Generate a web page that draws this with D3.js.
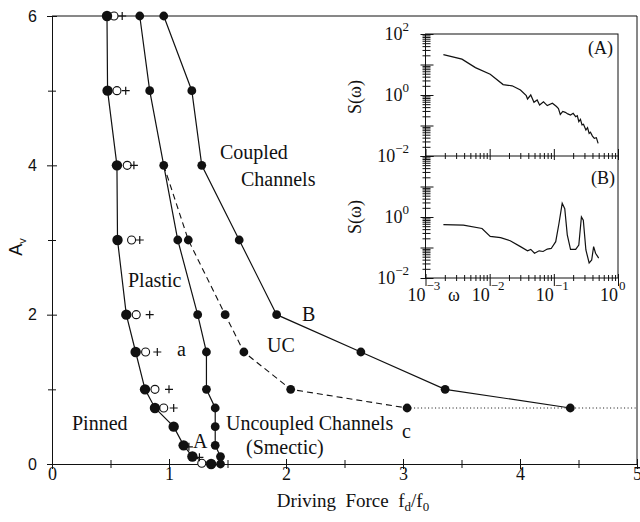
<!DOCTYPE html>
<html><head><meta charset="utf-8">
<script src="https://cdn.jsdelivr.net/npm/d3@7/dist/d3.min.js"></script>
<style>body{margin:0;background:#fff}svg{display:block}</style>
</head><body><svg id="c" width="640" height="522"></svg>
<script>
// ---- Main phase diagram data ----
const xTicks = [0,1,2,3,4,5];
const xMinor = [0.5,1.5,2.5,3.5,4.5];
const yTicks = [0,2,4,6];
const yMinor = [1,3,5];

const pinnedX = [0.47,0.475,0.555,0.56,0.635,0.715,0.795,0.88,1.04,1.125,1.2,1.36];
const pinnedY = [6,5,4,3,2,1.5,1,0.75,0.5,0.25,0.1,0];

const plasticX = [0.75,0.835,0.955,1.075,1.245,1.32,1.32,1.395,1.395,1.395,1.44,1.44];
const plasticY = [6,5,4,3,2,1.5,1,0.75,0.5,0.25,0.1,0];

const ucX = [0.955,1.165,1.48,1.64,2.04,3.035];
const ucY = [4,3,2,1.5,1,0.75];

const coupledX = [0.955,1.195,1.28,1.6,1.92,2.64,3.36,4.43];
const coupledY = [6,5,4,3,2,1.5,1,0.75];

const dottedX = [3.035,5];
const dottedY = [0.75,0.75];

const openX = [0.53,0.555,0.643,0.68,0.72,0.8,0.88,0.955,1.28];
const openY = [6,5,4,3,2,1.5,1,0.75,0.01];

const plusX = [0.6,0.63,0.7,0.75,0.835,0.9,1.0,1.04,1.17,1.26];
const plusY = [6,5,4,3,2,1.5,1,0.75,0.23,0.09];

// ---- Inset spectra ----
const wA = [0.0019,0.0037,0.006,0.0102,0.0162,0.0224,0.0302,0.0372,0.0389,0.0437,0.049,0.055,0.060,0.069,0.079,0.095,0.110,0.118,0.126,0.138,0.151,0.165,0.182,0.20,0.219,0.232,0.245,0.26,0.275,0.29,0.316,0.335,0.355,0.372,0.40,0.427,0.46,0.49];
const sA = [21,15,7.9,4.8,2.2,2.0,1.45,0.95,0.74,1.0,0.58,0.69,0.47,0.6,0.45,0.54,0.42,0.36,0.23,0.29,0.27,0.24,0.22,0.25,0.195,0.21,0.135,0.16,0.105,0.11,0.071,0.085,0.055,0.06,0.045,0.038,0.04,0.026];

const wB = [0.0019,0.0039,0.0076,0.0102,0.0148,0.0209,0.0302,0.0389,0.0437,0.050,0.059,0.068,0.079,0.091,0.107,0.120,0.135,0.148,0.162,0.182,0.219,0.245,0.269,0.288,0.316,0.355,0.389,0.417,0.447,0.50];
const sB = [0.56,0.54,0.42,0.23,0.21,0.166,0.107,0.078,0.087,0.065,0.078,0.074,0.089,0.093,0.155,0.60,2.8,1.86,0.26,0.087,0.087,0.12,1.0,0.78,0.083,0.031,0.039,0.107,0.065,0.045];

const insetDecades = [1e-2,1e0,1e2];
const insetDecadeLabels = ["\u22122","0","2"];
const insetXDecades = [1e-3,1e-2,1e-1,1e0];
const insetXLabels = ["\u22123","\u22122","\u22121","0"];

const serif = "Liberation Serif, Times New Roman, serif";
const sans = "Liberation Sans, Arial, sans-serif";
const ink = "#111";

const svg = d3.select("#c");
const x = d3.scaleLinear().domain([0,5]).range([52,637]);
const y = d3.scaleLinear().domain([0,6]).range([464,16]);

// Frame (top & right)
svg.append("line").attr("x1",x(0)).attr("x2",x(5)).attr("y1",y(6)).attr("y2",y(6)).attr("stroke",ink).attr("stroke-width",1);
svg.append("line").attr("x1",x(5)).attr("x2",x(5)).attr("y1",y(6)).attr("y2",y(0)).attr("stroke",ink).attr("stroke-width",1);

// X axis
const gx = svg.append("g").attr("transform",`translate(0,${y(0)})`)
  .call(d3.axisBottom(x).tickValues(xTicks).tickFormat(d3.format("d")).tickSizeOuter(0));
gx.selectAll(".tick line").attr("y1",-5).attr("y2",5);
gx.selectAll(".tick text").attr("y",16).attr("dy",0).attr("font-family",serif).attr("font-size",18).attr("fill",ink);
const gx2 = svg.append("g").attr("transform",`translate(0,${y(0)})`)
  .call(d3.axisBottom(x).tickValues(xMinor).tickFormat(""));
gx2.select(".domain").remove();
gx2.selectAll(".tick line").attr("y1",-4).attr("y2",4);
svg.selectAll(".domain,.tick line").attr("stroke",ink);

// Y axis
const gy = svg.append("g").attr("transform",`translate(${x(0)},0)`)
  .call(d3.axisLeft(y).tickValues(yTicks).tickFormat(d3.format("d")).tickSizeOuter(0));
gy.selectAll(".tick line").attr("x1",-5).attr("x2",5);
gy.selectAll(".tick text").attr("x",-15).attr("font-family",sans).attr("font-size",16).attr("fill",ink);
const gy2 = svg.append("g").attr("transform",`translate(${x(0)},0)`)
  .call(d3.axisLeft(y).tickValues(yMinor).tickFormat(""));
gy2.select(".domain").remove();
gy2.selectAll(".tick line").attr("x1",-4).attr("x2",4);
svg.selectAll(".domain,.tick line").attr("stroke",ink);

// axis labels
const xl = svg.append("text").attr("x",353).attr("y",507).attr("text-anchor","middle")
  .attr("font-family",serif).attr("font-size",19).attr("fill",ink).attr("xml:space","preserve");
xl.append("tspan").text("Driving  Force  f");
xl.append("tspan").attr("dy",4).attr("font-size",13).text("d");
xl.append("tspan").attr("dy",-4).text("/f");
xl.append("tspan").attr("dy",4).attr("font-size",13).text("0");

const yl = svg.append("text").attr("transform","translate(22,247) rotate(-90)").attr("text-anchor","middle")
  .attr("font-family",sans).attr("font-size",18).attr("fill",ink);
yl.append("tspan").text("A");
yl.append("tspan").attr("dy",4).attr("font-size",11).text("v");

// Lines
const line = d3.line().x(d=>x(d[0])).y(d=>y(d[1]));
const zip = (a,b)=>a.map((v,i)=>[v,b[i]]);
const pinned = zip(pinnedX,pinnedY), plastic = zip(plasticX,plasticY),
      uc = zip(ucX,ucY), coupled = zip(coupledX,coupledY), dotted = zip(dottedX,dottedY);

svg.append("path").attr("d",line(dotted)).attr("fill","none").attr("stroke",ink).attr("stroke-width",1).attr("stroke-dasharray","1,2.5");
svg.append("path").attr("d",line(uc)).attr("fill","none").attr("stroke",ink).attr("stroke-width",1.1).attr("stroke-dasharray","6,4");
[pinned,plastic,coupled].forEach(p=>{
  svg.append("path").attr("d",line(p)).attr("fill","none").attr("stroke",ink).attr("stroke-width",1.2);
});

// Open circles & plus markers
svg.append("g").selectAll("circle").data(zip(openX,openY)).join("circle")
  .attr("cx",d=>x(d[0])).attr("cy",d=>y(d[1])).attr("r",4).attr("fill","#fff").attr("stroke",ink).attr("stroke-width",1.1);
svg.append("g").selectAll("path").data(zip(plusX,plusY)).join("path")
  .attr("d",d=>{const cx=x(d[0]),cy=y(d[1]);return `M${cx-4},${cy}H${cx+4}M${cx},${cy-4}V${cy+4}`;})
  .attr("stroke",ink).attr("stroke-width",1.2);

// Filled circles
const dots = (pts,r)=>svg.append("g").selectAll("circle").data(pts).join("circle")
  .attr("cx",d=>x(d[0])).attr("cy",d=>y(d[1])).attr("r",r).attr("fill",ink);
dots(plastic,4.4); dots(uc.slice(1),4.4); dots(coupled,4.4); dots(pinned,5.2);

// Region labels
const labels = [
  ["Coupled",220,159],["Channels",241,186],["Plastic",128,287],["B",302,321],
  ["a",177,356],["UC",267,352],["Pinned",72,430],["Uncoupled Channels",226,430],
  ["(Smectic)",246,454],["A",193,448],["c",402,438]
];
svg.append("g").selectAll("text").data(labels).join("text")
  .attr("x",d=>d[1]).attr("y",d=>d[2]).text(d=>d[0])
  .attr("font-family",serif).attr("font-size",20).attr("fill",ink);

// ---- Inset ----
const xi = d3.scaleLog().domain([1e-3,1]).range([425.5,618]);
const yA = d3.scaleLog().domain([1e-2,1e2]).range([156,34]);
const yB = d3.scaleLog().domain([1e-2,1e2]).range([278,156]);

svg.append("rect").attr("x",xi(1e-3)).attr("y",yA(1e2)).attr("width",xi(1)-xi(1e-3)).attr("height",yB(1e-2)-yA(1e2))
  .attr("fill","none").attr("stroke",ink).attr("stroke-width",1);
svg.append("line").attr("x1",xi(1e-3)).attr("x2",xi(1)).attr("y1",yA(1e-2)).attr("y2",yA(1e-2)).attr("stroke",ink).attr("stroke-width",1);

const isMajor = v => Math.abs(Math.log10(v)-Math.round(Math.log10(v)))<1e-6;

[yA,yB].forEach(ys=>{
  const g = svg.append("g").attr("transform",`translate(${xi(1e-3)},0)`)
    .call(d3.axisLeft(ys).tickValues(ys.ticks()).tickFormat(""));
  g.select(".domain").remove();
  g.selectAll(".tick line").attr("x1",d=>isMajor(d)?-5:-3).attr("x2",d=>isMajor(d)?8:5).attr("stroke",ink).attr("stroke-width",1);
});
[[yA(1e-2),-7,4],[yB(1e-2),-4,8]].forEach(([yy,up,dn])=>{
  const g = svg.append("g").attr("transform",`translate(0,${yy})`)
    .call(d3.axisBottom(xi).tickValues(xi.ticks()).tickFormat(""));
  g.select(".domain").remove();
  g.selectAll(".tick line").attr("y1",d=>isMajor(d)?up:-3).attr("y2",d=>isMajor(d)?dn:3).attr("stroke",ink).attr("stroke-width",1);
});

// inset y labels
const yLabs = [];
insetDecades.forEach((v,i)=>yLabs.push([yA(v),insetDecadeLabels[i]]));
insetDecades.slice(0,2).forEach((v,i)=>yLabs.push([yB(v),insetDecadeLabels[i]]));
yLabs.forEach(([yy,e])=>{
  const t = svg.append("text").attr("x",409).attr("y",yy+6).attr("text-anchor","end")
    .attr("font-family",serif).attr("font-size",18).attr("fill",ink);
  t.append("tspan").text("10");
  t.append("tspan").attr("dy",-9).attr("font-size",13).text(e);
});
// inset x labels
insetXDecades.forEach((v,i)=>{
  svg.append("text").attr("x",xi(v)).attr("y",301).attr("text-anchor","end")
    .attr("font-family",serif).attr("font-size",18).attr("fill",ink).text("10");
  svg.append("text").attr("x",xi(v)+1).attr("y",290).attr("text-anchor","start")
    .attr("font-family",serif).attr("font-size",13).attr("fill",ink).text(insetXLabels[i]);
});
svg.append("text").attr("x",448).attr("y",301).attr("font-family",serif).attr("font-size",18).attr("fill",ink).text("\u03c9");

// S(w) labels
[[97],[217]].forEach(([cy])=>{
  svg.append("text").attr("transform",`translate(361,${cy}) rotate(-90)`).attr("text-anchor","middle")
    .attr("font-family",serif).attr("font-size",18).attr("fill",ink).text("S(\u03c9)");
});
svg.append("text").attr("x",613).attr("y",54).attr("text-anchor","end").attr("font-family",serif).attr("font-size",18).attr("fill",ink).text("(A)");
svg.append("text").attr("x",615).attr("y",184).attr("text-anchor","end").attr("font-family",serif).attr("font-size",18).attr("fill",ink).text("(B)");

// spectra
const lA = d3.line().x(d=>xi(d[0])).y(d=>yA(d[1]));
const lB = d3.line().x(d=>xi(d[0])).y(d=>yB(d[1]));
svg.append("path").attr("d",lA(zip(wA,sA))).attr("fill","none").attr("stroke",ink).attr("stroke-width",1.2);
svg.append("path").attr("d",lB(zip(wB,sB))).attr("fill","none").attr("stroke",ink).attr("stroke-width",1.2);
</script></body></html>
